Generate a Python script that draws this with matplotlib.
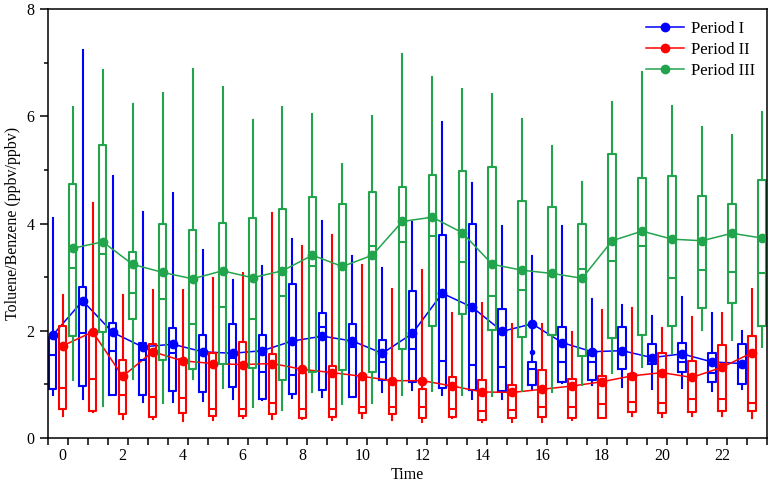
import numpy as np
import matplotlib.pyplot as plt

plt.rcParams['font.family'] = ['Liberation Serif', 'DejaVu Serif']

hours = np.arange(24)

# Period I (blue)
p1_lo  = [0.81, 0.73, 0.80, 0.68, 0.68, 0.69, 0.72, 0.70, 0.74, 0.77, 0.77, 0.85,
          0.90, 0.80, 0.72, 0.72, 0.90, 1.02, 0.99, 0.96, 0.91, 0.93, 0.88, 0.91]
p1_q1  = [0.91, 0.97, 0.81, 0.80, 0.88, 0.85, 0.95, 0.72, 0.83, 0.90, 0.77, 1.08,
          1.05, 0.94, 0.90, 0.88, 0.98, 1.05, 1.08, 1.28, 1.39, 1.24, 1.04, 1.01]
p1_med = [1.54, 1.95, 1.62, 1.46, 1.58, 1.55, 1.49, 1.24, 1.18, 2.07, 1.70, 1.41,
          1.66, 1.44, 1.37, 1.33, 1.28, 1.42, 1.41, 1.61, 1.43, 1.42, 1.21, 1.40]
p1_q3  = [1.89, 2.81, 2.15, 1.77, 2.06, 1.93, 2.13, 1.93, 2.87, 2.34, 2.12, 1.83,
          2.74, 3.79, 3.99, 2.40, 1.42, 2.08, 1.61, 2.08, 1.75, 1.78, 1.59, 1.76]
p1_hi  = [4.11, 7.24, 4.89, 4.22, 4.58, 3.50, 2.94, 3.21, 3.71, 4.05, 3.40, 3.18,
          4.03, 5.89, 4.75, 3.96, 3.40, 3.96, 2.59, 2.48, 2.28, 2.64, 2.33, 2.00]
p1_mean = [1.92, 2.56, 1.97, 1.70, 1.75, 1.61, 1.58, 1.63, 1.81, 1.90, 1.81, 1.58,
           1.95, 2.70, 2.44, 1.99, 2.13, 1.78, 1.61, 1.63, 1.50, 1.57, 1.42, 1.39]
p1_out = {16: [1.60]}

# Period II (red)
p2_lo  = [0.42, 0.49, 0.35, 0.35, 0.32, 0.34, 0.37, 0.35, 0.35, 0.34, 0.37, 0.34,
          0.30, 0.37, 0.29, 0.30, 0.29, 0.34, 0.37, 0.42, 0.40, 0.41, 0.41, 0.38]
p2_q1  = [0.55, 0.51, 0.44, 0.39, 0.47, 0.42, 0.42, 0.44, 0.38, 0.39, 0.46, 0.44,
          0.38, 0.39, 0.34, 0.38, 0.39, 0.38, 0.38, 0.49, 0.47, 0.49, 0.50, 0.50]
p2_med = [0.94, 1.11, 0.81, 0.77, 0.75, 0.54, 0.55, 0.65, 0.55, 0.55, 0.57, 0.58,
          0.57, 0.55, 0.50, 0.52, 0.58, 0.58, 0.63, 0.67, 0.66, 0.73, 0.73, 0.66]
p2_q3  = [2.09, 1.98, 1.46, 1.75, 1.47, 1.59, 1.80, 1.56, 1.21, 1.35, 1.18, 1.06,
          0.91, 1.13, 1.08, 0.99, 1.27, 1.11, 1.16, 1.19, 1.59, 1.44, 1.74, 1.90]
p2_hi  = [2.67, 4.38, 2.67, 2.77, 2.77, 2.99, 3.07, 4.20, 3.59, 3.79, 3.23, 2.78,
          3.13, 2.34, 2.51, 2.12, 2.12, 1.97, 2.38, 2.42, 2.05, 2.26, 2.33, 2.78]
p2_mean = [1.72, 1.98, 1.15, 1.61, 1.44, 1.39, 1.37, 1.39, 1.28, 1.22, 1.15, 1.07,
           1.07, 0.97, 0.86, 0.85, 0.91, 0.97, 1.05, 1.16, 1.22, 1.13, 1.32, 1.59]

# Period III (green)
p3_lo  = [1.08, 0.60, 1.11, 0.66, 1.10, 0.94, 0.58, 0.52, 0.86, 0.63, 0.65, 0.80,
          0.88, 0.81, 0.78, 0.88, 0.85, 0.99, 1.21, 1.33, 1.58, 2.01, 1.83, 1.70]
p3_q1  = [1.90, 1.98, 2.22, 1.45, 1.28, 1.39, 1.31, 1.08, 1.23, 1.27, 1.23, 1.67,
          2.09, 2.31, 2.01, 1.89, 1.92, 1.53, 1.86, 1.92, 2.09, 2.42, 2.51, 2.09]
p3_med = [3.18, 3.43, 2.70, 2.59, 2.12, 2.45, 2.22, 2.65, 3.21, 3.18, 3.59, 3.66,
          3.76, 3.28, 2.65, 2.77, 3.05, 3.15, 3.30, 3.59, 2.98, 3.13, 3.09, 3.07]
p3_q3  = [4.74, 5.47, 3.47, 3.99, 3.89, 4.02, 4.11, 4.27, 4.49, 4.37, 4.59, 4.69,
          4.91, 4.99, 5.06, 4.43, 4.31, 3.99, 5.29, 4.86, 4.89, 4.52, 4.36, 4.81]
p3_hi  = [6.18, 6.87, 6.24, 6.43, 6.88, 6.55, 5.93, 6.17, 6.04, 5.11, 6.01, 7.16,
          6.74, 6.52, 6.42, 5.95, 5.44, 4.78, 6.27, 6.83, 6.20, 5.81, 5.65, 6.08]
p3_mean = [3.54, 3.66, 3.24, 3.09, 2.97, 3.12, 2.99, 3.12, 3.41, 3.20, 3.41, 4.04,
           4.12, 3.83, 3.24, 3.13, 3.07, 2.98, 3.68, 3.86, 3.71, 3.68, 3.82, 3.73]

periods = [
    ("Period I",   "#0000ff", -1/3, p1_lo, p1_q1, p1_med, p1_q3, p1_hi, p1_mean, p1_out),
    ("Period II",  "#ff0000",  0.0, p2_lo, p2_q1, p2_med, p2_q3, p2_hi, p2_mean, {}),
    ("Period III", "#22a44c",  1/3, p3_lo, p3_q1, p3_med, p3_q3, p3_hi, p3_mean, {}),
]

fig = plt.figure(figsize=(7.7, 4.84), dpi=100)
ax = fig.add_axes([0.062, 0.095, 0.934, 0.886])

for name, col, off, lo, q1, med, q3, hi, mean, out in periods:
    stats = []
    for i in range(24):
        stats.append(dict(whislo=lo[i], q1=q1[i], med=med[i], q3=q3[i],
                          whishi=hi[i], fliers=out.get(i, [])))
    pos = hours + off
    ax.bxp(stats, positions=pos, widths=0.25, showcaps=False, showfliers=True,
           boxprops=dict(color=col, linewidth=1.5),
           medianprops=dict(color=col, linewidth=1.5),
           whiskerprops=dict(color=col, linewidth=1.5),
           flierprops=dict(marker='o', markersize=3, markerfacecolor=col,
                           markeredgecolor=col))
    ax.plot(pos, mean, color=col, lw=1.1, marker='o', markersize=6, label=name)

ax.set_xlim(-0.5, 23.5)
ax.set_ylim(0, 8)

# short ticks every 2/3 h, hour labels every 2 h
ax.set_xticks(-0.5 + np.arange(37) * 2 / 3)
ax.set_xticklabels([])
ax.set_xticks(np.arange(0, 24, 2), minor=True)
ax.set_xticklabels([str(h) for h in range(0, 24, 2)], minor=True)
ax.tick_params(axis='x', which='major', direction='out', length=5, width=1.1)
ax.tick_params(axis='x', which='minor', length=0, pad=7.5, labelsize=11.5)

ax.set_yticks([0, 2, 4, 6, 8])
ax.set_yticks([1, 3, 5, 7], minor=True)
ax.tick_params(axis='y', which='major', direction='out', length=6, width=1.1, labelsize=11.5)
ax.tick_params(axis='y', which='minor', direction='out', length=3, width=1.1)

for s in ax.spines.values():
    s.set_linewidth(1.1)

ax.set_xlabel("Time", fontsize=11.5, labelpad=2)
ax.set_ylabel("Toluene/Benzene (ppbv/ppbv)", fontsize=11.5, labelpad=4)

ax.legend(loc='upper right', frameon=False, fontsize=12, handlelength=2.3,
          borderaxespad=0.3, labelspacing=0.3, handletextpad=0.4)

fig.savefig("out.png", dpi=100)
